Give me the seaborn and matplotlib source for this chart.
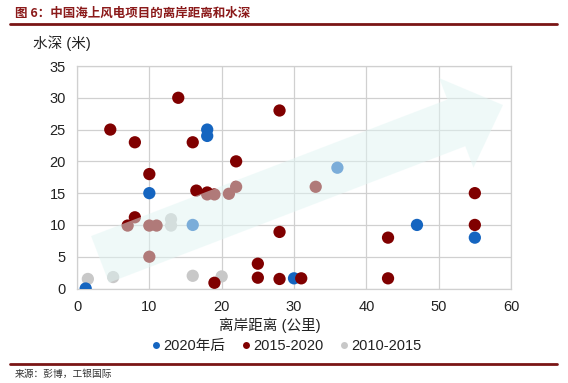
import numpy as np
import pandas as pd
import matplotlib
matplotlib.use("Agg")
import matplotlib.pyplot as plt
from matplotlib.patches import Polygon
from matplotlib.lines import Line2D
import seaborn as sns

# --------------------------------------------------
# Data: offshore wind projects, distance to shore (km) vs water depth (m)
# --------------------------------------------------

gray_x = [1.5, 5, 16, 20, 13, 13]
gray_y = [1.5, 1.8, 2, 1.9, 10.9, 9.9]

blue_x = [1.2, 10, 18, 18, 16, 36, 30, 47, 55]
blue_y = [0, 15, 25, 24, 10, 19, 1.6, 10, 8]

red_x = [4.6, 8, 14, 16, 28, 22, 10, 16.5, 18, 18, 19, 21, 22, 33,
         8, 7, 10, 11, 10, 28, 25, 25, 28, 31, 19, 43, 43, 55, 55]
red_y = [25, 23, 30, 23, 28, 20, 18, 15.4, 15.1, 14.8, 14.8, 14.9, 16, 16,
         11.2, 9.9, 9.9, 9.9, 5, 8.9, 3.9, 1.7, 1.5, 1.6, 0.9, 8, 1.6, 15, 10]

series_names = ["2020年后", "2015-2020", "2010-2015"]
colors = {"2020年后": "#1565C0", "2015-2020": "#800000", "2010-2015": "#C8C8C8"}

df = pd.concat([
    pd.DataFrame({"dist": gray_x, "depth": gray_y, "period": "2010-2015"}),
    pd.DataFrame({"dist": blue_x, "depth": blue_y, "period": "2020年后"}),
    pd.DataFrame({"dist": red_x, "depth": red_y, "period": "2015-2020"}),
], ignore_index=True)

# --------------------------------------------------
# Plot
# --------------------------------------------------

sns.set_style("white")
plt.rcParams["font.family"] = ["Liberation Sans", "Noto Sans CJK SC", "DejaVu Sans"]

W, H = 568, 383
fig = plt.figure(figsize=(W / 100, H / 100), dpi=100)
ax = fig.add_axes([77 / W, 1 - 288.5 / H, (511 - 77) / W, (288.5 - 66) / H])

sns.scatterplot(data=df, x="dist", y="depth", hue="period", hue_order=series_names,
                palette=colors, s=78, linewidth=0, edgecolor="none", alpha=1,
                legend=False, ax=ax, zorder=3)

ax.set_xlim(0, 60)
ax.set_ylim(0, 35)
ax.set_xticks(range(0, 61, 10))
ax.set_yticks(range(0, 36, 5))
ax.grid(True, color="#D0D0D0", linewidth=0.9)
ax.set_axisbelow(True)
for s in ax.spines.values():
    s.set_color("#D0D0D0")
    s.set_linewidth(0.9)
ax.tick_params(axis="both", length=0, labelsize=10.5, colors="#222222", pad=8)
ax.set_xlabel("")
ax.set_ylabel("")

# translucent trend arrow (drawn over the points, in reference pixel space)
tail = np.array([100.0, 259.4])
tip = np.array([503.0, 105.0])
d = (tip - tail) / np.linalg.norm(tip - tail)
n = np.array([-d[1], d[0]])
if n[1] < 0:
    n = -n
w, hw, hl = 25, 48, 50
base = tip - hl * d
pts = [tail - w * n, base - w * n, base - hw * n, tip,
       base + hw * n, base + w * n, tail + w * n]
pts = [(p[0] / W, 1 - p[1] / H) for p in pts]
arrow = Polygon(pts, closed=True, transform=fig.transFigure,
                facecolor="#E1F5F3", edgecolor="none", alpha=0.5, zorder=4)
ax.add_patch(arrow)

# texts
fig.text(33 / W, 1 - 43 / H, "水深 (米)", fontsize=10.5, color="#222222", va="center")
fig.text(270 / W, 1 - 325 / H, "离岸距离 (公里)", fontsize=10.5, color="#222222",
         ha="center", va="center")

handles = [Line2D([0], [0], marker="o", linestyle="none", markersize=5,
                  markerfacecolor=colors[k], markeredgecolor="none") for k in series_names]
fig.legend(handles, series_names, loc="center", bbox_to_anchor=(285 / W, 1 - 346 / H),
           ncol=3, frameon=False, fontsize=10.5, handletextpad=0.0,
           columnspacing=0.9, handlelength=1.0, labelcolor="#222222")

fig.text(15 / W, 1 - 13 / H, "图 6：中国海上风电项目的离岸距离和水深", fontsize=9,
         fontweight="bold", color="#8B1A1A", va="center",
         family=["Noto Sans CJK SC", "DejaVu Sans"])
fig.add_artist(Line2D([10 / W, 557 / W], [1 - 24 / H, 1 - 24 / H],
                      color="#7A1515", linewidth=2.0, transform=fig.transFigure))
fig.add_artist(Line2D([10 / W, 557 / W], [1 - 364 / H, 1 - 364 / H],
                      color="#7A1515", linewidth=2.0, transform=fig.transFigure))
fig.text(15 / W, 1 - 374 / H, "来源：彭博，工银国际", fontsize=7, style="italic",
         color="#333333", va="center", family=["Noto Sans CJK SC", "DejaVu Sans"])

fig.savefig("out.png", dpi=100)
